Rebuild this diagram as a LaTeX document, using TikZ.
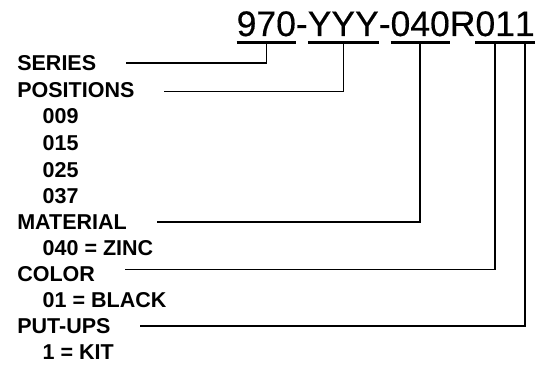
\documentclass[tikz,border=0pt]{standalone}
\usepackage{fontspec}
\setmainfont{Liberation Sans}
\newfontfamily\titlefont[FakeBold=0.4]{Liberation Sans}
\begin{document}
\begin{tikzpicture}[x=1pt,y=-1pt,
  title/.style={font=\titlefont\fontsize{35.5}{36}\selectfont, inner sep=0pt, outer sep=0pt, anchor=base west},
  lab/.style={font=\bfseries\fontsize{21.5}{23}\selectfont, inner sep=0pt, outer sep=0pt, anchor=base west},
  ul/.style={line width=2.5pt},
  conn/.style={line width=1.5pt}]
\useasboundingbox (0,0) rectangle (550,369);
% title
\node[title] (t1) at (236.7,36) {970};
\node[title] (h1) at (t1.base east) {-};
\node[title] (t2) at (h1.base east) {YYY};
\node[title] (h2) at (t2.base east) {-};
\node[title] (t3) at (h2.base east) {040};
\node[title] (r)  at (t3.base east) {R};
\node[title] (t4) at (r.base east) {01};
\node[title] (t5) at (t4.base east) {1};
\foreach \n in {t1,t2,t3,t4,t5}{
  \draw[ul] ([yshift=-6.5pt]\n.base west) -- ([yshift=-6.5pt]\n.base east);
  \coordinate (\n u) at ([yshift=-6.5pt]\n.base);
}
% labels
\node[lab] (series) at (17.3,70.7) {SERIES};
\node[lab] (pos) at (17.3,97.3) {POSITIONS};
\node[lab] (p1) at (42.7,124) {009};
\node[lab] (p2) at (42.7,151) {015};
\node[lab] (p3) at (42.7,177.5) {025};
\node[lab] (p4) at (42.7,203.5) {037};
\node[lab] (mat) at (17.3,229.3) {MATERIAL};
\node[lab] (m1) at (42.7,255) {040 = ZINC};
\node[lab] (col) at (17.3,281.7) {COLOR};
\node[lab] (c1) at (42.7,307) {01 = BLACK};
\node[lab] (put) at (17.3,333) {PUT-UPS};
\node[lab] (k1) at (42.7,359.3) {1 = KIT};
% connectors
\draw[conn] (t1u) |- ([xshift=30pt,yshift=7.5pt]series.base east);
\draw[conn] (t2u) |- ([xshift=30pt,yshift=6pt]pos.base east);
\draw[conn] (t3u) |- ([xshift=30pt,yshift=7.5pt]mat.base east);
\draw[conn] (t4u) |- ([xshift=30pt,yshift=12pt]col.base east);
\draw[conn] (t5u) |- ([xshift=30pt,yshift=7pt]put.base east);
\end{tikzpicture}
\end{document}
